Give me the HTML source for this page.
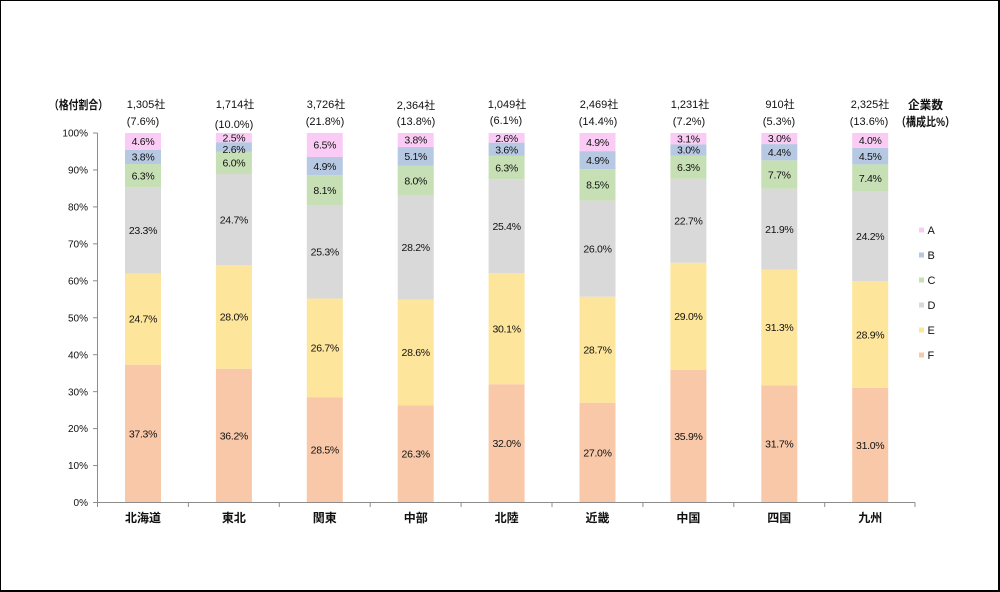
<!DOCTYPE html>
<html><head><meta charset="utf-8"><style>
html,body{margin:0;padding:0;background:#fff}
.f{position:absolute;left:0;top:0;width:997px;height:589px;border-left:1px solid #000;border-top:1px solid #000;border-right:2px solid #000;border-bottom:2px solid #000}
svg{position:absolute;left:0;top:0}
text{font-family:"Liberation Sans","Noto Sans CJK JP",sans-serif;fill:#111}
.d{font-size:10.5px;text-anchor:middle;letter-spacing:-0.3px}
.h{font-size:11px;text-anchor:middle}
.y{font-size:10px;text-anchor:end}
.c{font-size:12px;font-weight:bold;text-anchor:middle}
.l{font-size:11px}
.j{font-size:12px;font-weight:bold}
</style></head><body>
<div class="f"></div>
<svg width="1000" height="592" viewBox="0 0 1000 592">
<!-- bars (flipped coords) -->
<g transform="translate(0,502.5) scale(1,-3.695)">
<g transform="translate(125,0)">
<rect x="0" y="0" width="36" height="37.3" fill="#F8C8A8"/><rect x="0" y="37.3" width="36" height="24.7" fill="#FDE59B"/><rect x="0" y="62" width="36" height="23.3" fill="#D9D9D9"/><rect x="0" y="85.3" width="36" height="6.3" fill="#C6DFB4"/><rect x="0" y="91.6" width="36" height="3.8" fill="#B7C9E2"/><rect x="0" y="95.4" width="36" height="4.6" fill="#FACCF5"/>
</g>
<g transform="translate(215.9,0)">
<rect x="0" y="0" width="36" height="36.2" fill="#F8C8A8"/><rect x="0" y="36.2" width="36" height="28" fill="#FDE59B"/><rect x="0" y="64.2" width="36" height="24.7" fill="#D9D9D9"/><rect x="0" y="88.9" width="36" height="6" fill="#C6DFB4"/><rect x="0" y="94.9" width="36" height="2.6" fill="#B7C9E2"/><rect x="0" y="97.5" width="36" height="2.5" fill="#FACCF5"/>
</g>
<g transform="translate(306.8,0)">
<rect x="0" y="0" width="36" height="28.5" fill="#F8C8A8"/><rect x="0" y="28.5" width="36" height="26.7" fill="#FDE59B"/><rect x="0" y="55.2" width="36" height="25.3" fill="#D9D9D9"/><rect x="0" y="80.5" width="36" height="8.1" fill="#C6DFB4"/><rect x="0" y="88.6" width="36" height="4.9" fill="#B7C9E2"/><rect x="0" y="93.5" width="36" height="6.5" fill="#FACCF5"/>
</g>
<g transform="translate(397.7,0)">
<rect x="0" y="0" width="36" height="26.3" fill="#F8C8A8"/><rect x="0" y="26.3" width="36" height="28.6" fill="#FDE59B"/><rect x="0" y="54.9" width="36" height="28.2" fill="#D9D9D9"/><rect x="0" y="83.1" width="36" height="8" fill="#C6DFB4"/><rect x="0" y="91.1" width="36" height="5.1" fill="#B7C9E2"/><rect x="0" y="96.2" width="36" height="3.8" fill="#FACCF5"/>
</g>
<g transform="translate(488.6,0)">
<rect x="0" y="0" width="36" height="32" fill="#F8C8A8"/><rect x="0" y="32" width="36" height="30.1" fill="#FDE59B"/><rect x="0" y="62.1" width="36" height="25.4" fill="#D9D9D9"/><rect x="0" y="87.5" width="36" height="6.3" fill="#C6DFB4"/><rect x="0" y="93.8" width="36" height="3.6" fill="#B7C9E2"/><rect x="0" y="97.4" width="36" height="2.6" fill="#FACCF5"/>
</g>
<g transform="translate(579.5,0)">
<rect x="0" y="0" width="36" height="27" fill="#F8C8A8"/><rect x="0" y="27" width="36" height="28.7" fill="#FDE59B"/><rect x="0" y="55.7" width="36" height="26" fill="#D9D9D9"/><rect x="0" y="81.7" width="36" height="8.5" fill="#C6DFB4"/><rect x="0" y="90.2" width="36" height="4.9" fill="#B7C9E2"/><rect x="0" y="95.1" width="36" height="4.9" fill="#FACCF5"/>
</g>
<g transform="translate(670.4,0)">
<rect x="0" y="0" width="36" height="35.9" fill="#F8C8A8"/><rect x="0" y="35.9" width="36" height="29" fill="#FDE59B"/><rect x="0" y="64.9" width="36" height="22.7" fill="#D9D9D9"/><rect x="0" y="87.6" width="36" height="6.3" fill="#C6DFB4"/><rect x="0" y="93.9" width="36" height="3" fill="#B7C9E2"/><rect x="0" y="96.9" width="36" height="3.1" fill="#FACCF5"/>
</g>
<g transform="translate(761.3,0)">
<rect x="0" y="0" width="36" height="31.7" fill="#F8C8A8"/><rect x="0" y="31.7" width="36" height="31.3" fill="#FDE59B"/><rect x="0" y="63" width="36" height="21.9" fill="#D9D9D9"/><rect x="0" y="84.9" width="36" height="7.7" fill="#C6DFB4"/><rect x="0" y="92.6" width="36" height="4.4" fill="#B7C9E2"/><rect x="0" y="97" width="36" height="3" fill="#FACCF5"/>
</g>
<g transform="translate(852.2,0)">
<rect x="0" y="0" width="36" height="31" fill="#F8C8A8"/><rect x="0" y="31" width="36" height="28.9" fill="#FDE59B"/><rect x="0" y="59.9" width="36" height="24.2" fill="#D9D9D9"/><rect x="0" y="84.1" width="36" height="7.4" fill="#C6DFB4"/><rect x="0" y="91.5" width="36" height="4.5" fill="#B7C9E2"/><rect x="0" y="96" width="36" height="4" fill="#FACCF5"/>
</g>
</g>

<!-- axes -->
<g stroke="#8c8c8c" stroke-width="1" fill="none">
<line x1="97.5" y1="133" x2="97.5" y2="502.5"/>
<line x1="97.5" y1="502.5" x2="915" y2="502.5"/>
<line x1="93" y1="133" x2="97.5" y2="133"/>
<line x1="93" y1="169.95" x2="97.5" y2="169.95"/>
<line x1="93" y1="206.9" x2="97.5" y2="206.9"/>
<line x1="93" y1="243.85" x2="97.5" y2="243.85"/>
<line x1="93" y1="280.8" x2="97.5" y2="280.8"/>
<line x1="93" y1="317.75" x2="97.5" y2="317.75"/>
<line x1="93" y1="354.7" x2="97.5" y2="354.7"/>
<line x1="93" y1="391.65" x2="97.5" y2="391.65"/>
<line x1="93" y1="428.6" x2="97.5" y2="428.6"/>
<line x1="93" y1="465.55" x2="97.5" y2="465.55"/>
<line x1="93" y1="502.5" x2="97.5" y2="502.5"/>
<line x1="97.5" y1="502.5" x2="97.5" y2="507"/>
<line x1="188.4" y1="502.5" x2="188.4" y2="507"/>
<line x1="279.3" y1="502.5" x2="279.3" y2="507"/>
<line x1="370.2" y1="502.5" x2="370.2" y2="507"/>
<line x1="461.1" y1="502.5" x2="461.1" y2="507"/>
<line x1="552" y1="502.5" x2="552" y2="507"/>
<line x1="642.9" y1="502.5" x2="642.9" y2="507"/>
<line x1="733.8" y1="502.5" x2="733.8" y2="507"/>
<line x1="824.7" y1="502.5" x2="824.7" y2="507"/>
<line x1="915" y1="502.5" x2="915" y2="507"/>
</g>

<!-- y labels -->
<text class="y" x="88" y="136.5">100%</text>
<text class="y" x="88" y="173.5">90%</text>
<text class="y" x="88" y="210.5">80%</text>
<text class="y" x="88" y="247.5">70%</text>
<text class="y" x="88" y="284.5">60%</text>
<text class="y" x="88" y="321.5">50%</text>
<text class="y" x="88" y="358.5">40%</text>
<text class="y" x="88" y="395.5">30%</text>
<text class="y" x="88" y="432">20%</text>
<text class="y" x="88" y="469">10%</text>
<text class="y" x="88" y="506">0%</text>

<!-- category labels -->
<text class="c" x="143" y="522">北海道</text>
<text class="c" x="233.9" y="522">東北</text>
<text class="c" x="324.8" y="522">関東</text>
<text class="c" x="415.7" y="522">中部</text>
<text class="c" x="506.6" y="522">北陸</text>
<text class="c" x="597.5" y="522">近畿</text>
<text class="c" x="688.4" y="522">中国</text>
<text class="c" x="779.3" y="522">四国</text>
<text class="c" x="870.2" y="522">九州</text>

<!-- headers -->
<text class="j" x="49" y="109" textLength="59" lengthAdjust="spacingAndGlyphs">（格付割合）</text>
<text class="j" x="908" y="109" textLength="35" lengthAdjust="spacingAndGlyphs">企業数</text>
<text class="j" x="896" y="126" textLength="59" lengthAdjust="spacingAndGlyphs">（構成比%）</text>

<text class="h" x="146" y="108">1,305社</text><text class="h" x="143" y="125">(7.6%)</text>
<text class="h" x="235" y="108">1,714社</text><text class="h" x="234" y="128">(10.0%)</text>
<text class="h" x="326" y="108">3,726社</text><text class="h" x="325" y="125">(21.8%)</text>
<text class="h" x="416" y="109">2,364社</text><text class="h" x="416" y="125">(13.8%)</text>
<text class="h" x="507" y="108">1,049社</text><text class="h" x="506" y="124">(6.1%)</text>
<text class="h" x="599" y="108">2,469社</text><text class="h" x="598" y="125">(14.4%)</text>
<text class="h" x="690" y="108">1,231社</text><text class="h" x="689" y="125">(7.2%)</text>
<text class="h" x="780" y="108">910社</text><text class="h" x="779" y="125">(5.3%)</text>
<text class="h" x="870" y="108">2,325社</text><text class="h" x="869" y="125">(13.6%)</text>

<!-- data labels -->
<g>
<text class="d" x="143" y="437.3">37.3%</text><text class="d" x="143" y="322.7">24.7%</text><text class="d" x="143" y="234.1">23.3%</text><text class="d" x="143" y="179.4">6.3%</text><text class="d" x="143" y="160.7">3.8%</text><text class="d" x="143" y="145.2">4.6%</text>
<text class="d" x="233.9" y="439.3">36.2%</text><text class="d" x="233.9" y="320.7">28.0%</text><text class="d" x="233.9" y="223.4">24.7%</text><text class="d" x="233.9" y="166.4">6.0%</text><text class="d" x="233.9" y="153">2.6%</text><text class="d" x="233.9" y="141.4">2.5%</text>
<text class="d" x="324.8" y="453.5">28.5%</text><text class="d" x="324.8" y="351.6">26.7%</text><text class="d" x="324.8" y="255.5">25.3%</text><text class="d" x="324.8" y="193.8">8.1%</text><text class="d" x="324.8" y="169.8">4.9%</text><text class="d" x="324.8" y="148.7">6.5%</text>
<text class="d" x="415.7" y="457.6">26.3%</text><text class="d" x="415.7" y="356.2">28.6%</text><text class="d" x="415.7" y="251.2">28.2%</text><text class="d" x="415.7" y="184.4">8.0%</text><text class="d" x="415.7" y="160.2">5.1%</text><text class="d" x="415.7" y="143.7">3.8%</text>
<text class="d" x="506.6" y="447.1">32.0%</text><text class="d" x="506.6" y="332.4">30.1%</text><text class="d" x="506.6" y="229.8">25.4%</text><text class="d" x="506.6" y="171.3">6.3%</text><text class="d" x="506.6" y="153.4">3.6%</text><text class="d" x="506.6" y="141.8">2.6%</text>
<text class="d" x="597.5" y="456.3">27.0%</text><text class="d" x="597.5" y="353.4">28.7%</text><text class="d" x="597.5" y="252.4">26.0%</text><text class="d" x="597.5" y="188.6">8.5%</text><text class="d" x="597.5" y="163.9">4.9%</text><text class="d" x="597.5" y="145.8">4.9%</text>
<text class="d" x="688.4" y="439.9">35.9%</text><text class="d" x="688.4" y="320">29.0%</text><text class="d" x="688.4" y="224.5">22.7%</text><text class="d" x="688.4" y="170.9">6.3%</text><text class="d" x="688.4" y="153.7">3.0%</text><text class="d" x="688.4" y="142.4">3.1%</text>
<text class="d" x="779.3" y="447.6">31.7%</text><text class="d" x="779.3" y="331.2">31.3%</text><text class="d" x="779.3" y="232.9">21.9%</text><text class="d" x="779.3" y="178.3">7.7%</text><text class="d" x="779.3" y="155.9">4.4%</text><text class="d" x="779.3" y="142.2">3.0%</text>
<text class="d" x="870.2" y="448.9">31.0%</text><text class="d" x="870.2" y="338.3">28.9%</text><text class="d" x="870.2" y="240.2">24.2%</text><text class="d" x="870.2" y="181.8">7.4%</text><text class="d" x="870.2" y="159.8">4.5%</text><text class="d" x="870.2" y="144.1">4.0%</text>
</g>

<!-- legend -->
<rect x="919" y="227.5" width="5" height="5" fill="#FACCF5"/><text class="l" x="927.5" y="234">A</text>
<rect x="919" y="252.5" width="5" height="5" fill="#B7C9E2"/><text class="l" x="927.5" y="259">B</text>
<rect x="919" y="277.5" width="5" height="5" fill="#C6DFB4"/><text class="l" x="927.5" y="284">C</text>
<rect x="919" y="302.5" width="5" height="5" fill="#D9D9D9"/><text class="l" x="927.5" y="309">D</text>
<rect x="919" y="327.5" width="5" height="5" fill="#FDE59B"/><text class="l" x="927.5" y="334">E</text>
<rect x="919" y="352.5" width="5" height="5" fill="#F8C8A8"/><text class="l" x="927.5" y="359">F</text>
</svg>
</body></html>
